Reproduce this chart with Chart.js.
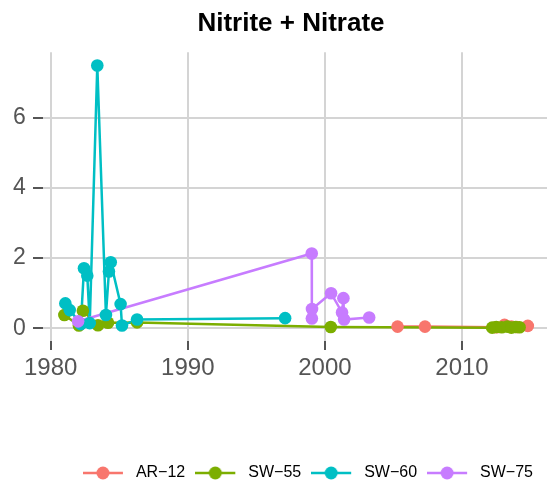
<!DOCTYPE html>
<html><head><meta charset="utf-8">
<script src="https://cdn.jsdelivr.net/npm/chart.js@4/dist/chart.umd.min.js"></script>
<style>html,body{margin:0;padding:0;background:#fff}#wrap{width:547px;height:485px;position:relative}</style>
</head><body><div id="wrap"><canvas id="c" width="547" height="485"></canvas></div>
<script>
const chartTitle = 'Nitrite + Nitrate';
const seriesNames = ['AR\u221212', 'SW\u221255', 'SW\u221260', 'SW\u221275'];
const seriesColors = ['#F8766D', '#7CAE00', '#00BFC4', '#C77CFF'];

const ar12Years  = [2005.3, 2007.3, 2012.5, 2013.1, 2013.6, 2014.0, 2014.8];
const ar12Values = [0.05, 0.05, 0.03, 0.10, 0.05, 0.04, 0.07];

const sw55Years  = [1981.0, 1982.06, 1982.35, 1983.45, 1984.18, 1986.3, 2000.43, 2012.2, 2012.5, 2012.9, 2013.3, 2013.6, 2013.9, 2014.2];
const sw55Values = [0.38, 0.08, 0.50, 0.09, 0.16, 0.17, 0.04, 0.02, 0.04, 0.03, 0.05, 0.02, 0.04, 0.03];

const sw60Years  = [1981.07, 1981.39, 1982.2, 1982.43, 1982.67, 1982.85, 1983.4, 1984.03, 1984.25, 1984.38, 1985.1, 1985.2, 1986.3, 1997.1];
const sw60Values = [0.71, 0.52, 0.12, 1.71, 1.50, 0.15, 7.48, 0.38, 1.62, 1.88, 0.69, 0.08, 0.25, 0.29];

const sw75Years  = [1982.0, 1999.04, 1999.05, 1999.06, 2000.45, 2001.25, 2001.35, 2001.4, 2003.23];
const sw75Values = [0.20, 2.13, 0.28, 0.55, 1.00, 0.45, 0.86, 0.25, 0.31];

const xTickValues = [1980, 1990, 2000, 2010];
const yTickValues = [0, 2, 4, 6];

const series = [
  {name: seriesNames[0], color: seriesColors[0], years: ar12Years, values: ar12Values},
  {name: seriesNames[1], color: seriesColors[1], years: sw55Years, values: sw55Values},
  {name: seriesNames[2], color: seriesColors[2], years: sw60Years, values: sw60Values},
  {name: seriesNames[3], color: seriesColors[3], years: sw75Years, values: sw75Values}
];
function toPoints(years, values) { return years.map((y, i) => ({x: y, y: values[i]})); }

const datasets = [];
series.forEach((s, i) => {
  datasets.push({label: s.name, data: toPoints(s.years, s.values), showLine: true,
    borderColor: s.color, borderWidth: 2.5, pointRadius: 0, pointHoverRadius: 0, fill: false, tension: 0, order: 20 - i});
});
series.forEach((s, i) => {
  datasets.push({label: s.name, data: toPoints(s.years, s.values), showLine: false,
    pointRadius: 6.3, pointBackgroundColor: s.color, pointBorderWidth: 0, pointBorderColor: s.color, order: 10 - i});
});

function makeKey(color) {
  const c = document.createElement('canvas');
  c.width = 49; c.height = 16;
  const ctx = c.getContext('2d');
  ctx.strokeStyle = color; ctx.lineWidth = 2.5;
  ctx.beginPath(); ctx.moveTo(0, 8); ctx.lineTo(40, 8); ctx.stroke();
  ctx.fillStyle = color; ctx.beginPath(); ctx.arc(20, 8, 6.5, 0, Math.PI * 2); ctx.fill();
  return c;
}
const keyImages = seriesColors.map(makeKey);

const FONT = '"Liberation Sans", Arial, Helvetica, sans-serif';

new Chart(document.getElementById('c'), {
  type: 'scatter',
  data: {datasets},
  options: {
    responsive: false, animation: false, devicePixelRatio: 1,
    layout: {autoPadding: false, padding: {left: 35, right: 0, top: 0, bottom: 0}},
    plugins: {
      tooltip: {enabled: false},
      title: {display: true, text: chartTitle, color: '#000',
        font: {family: FONT, size: 26, weight: 'bold'}, padding: {top: 8, bottom: 13}},
      legend: {display: true, position: 'bottom', align: 'end', maxHeight: 34,
        labels: {usePointStyle: true, pointStyleWidth: 41, padding: 14, color: '#222',
          font: {family: FONT, size: 16},
          generateLabels: () => series.map((s, i) => ({text: s.name, pointStyle: keyImages[i],
            fillStyle: s.color, strokeStyle: s.color, lineWidth: 0, hidden: false, datasetIndex: 4 + i}))}}
    },
    scales: {
      x: {type: 'linear', min: 1979.44, max: 2016.2,
        afterBuildTicks: a => { a.ticks = xTickValues.map(v => ({value: v})); },
        afterFit: a => { a.height = 110; },
        border: {display: false},
        grid: {color: '#D4D4D4', lineWidth: 2, drawTicks: true, tickLength: 9, tickColor: '#555', tickWidth: 2},
        ticks: {font: {family: FONT, size: 24}, color: '#555', padding: 4, maxRotation: 0, autoSkip: false,
          callback: v => String(v)}},
      y: {type: 'linear', min: -0.36, max: 7.86,
        afterBuildTicks: a => { a.ticks = yTickValues.map(v => ({value: v})); },
        afterFit: a => { a.width = 8; },
        border: {display: false},
        grid: {color: '#D4D4D4', lineWidth: 2, drawTicks: true, tickLength: 10, tickColor: '#555', tickWidth: 2},
        ticks: {font: {family: FONT, size: 23}, color: '#555', mirror: true, padding: -30, autoSkip: false,
          callback: v => String(v)}}
    }
  }
});
</script></body></html>
